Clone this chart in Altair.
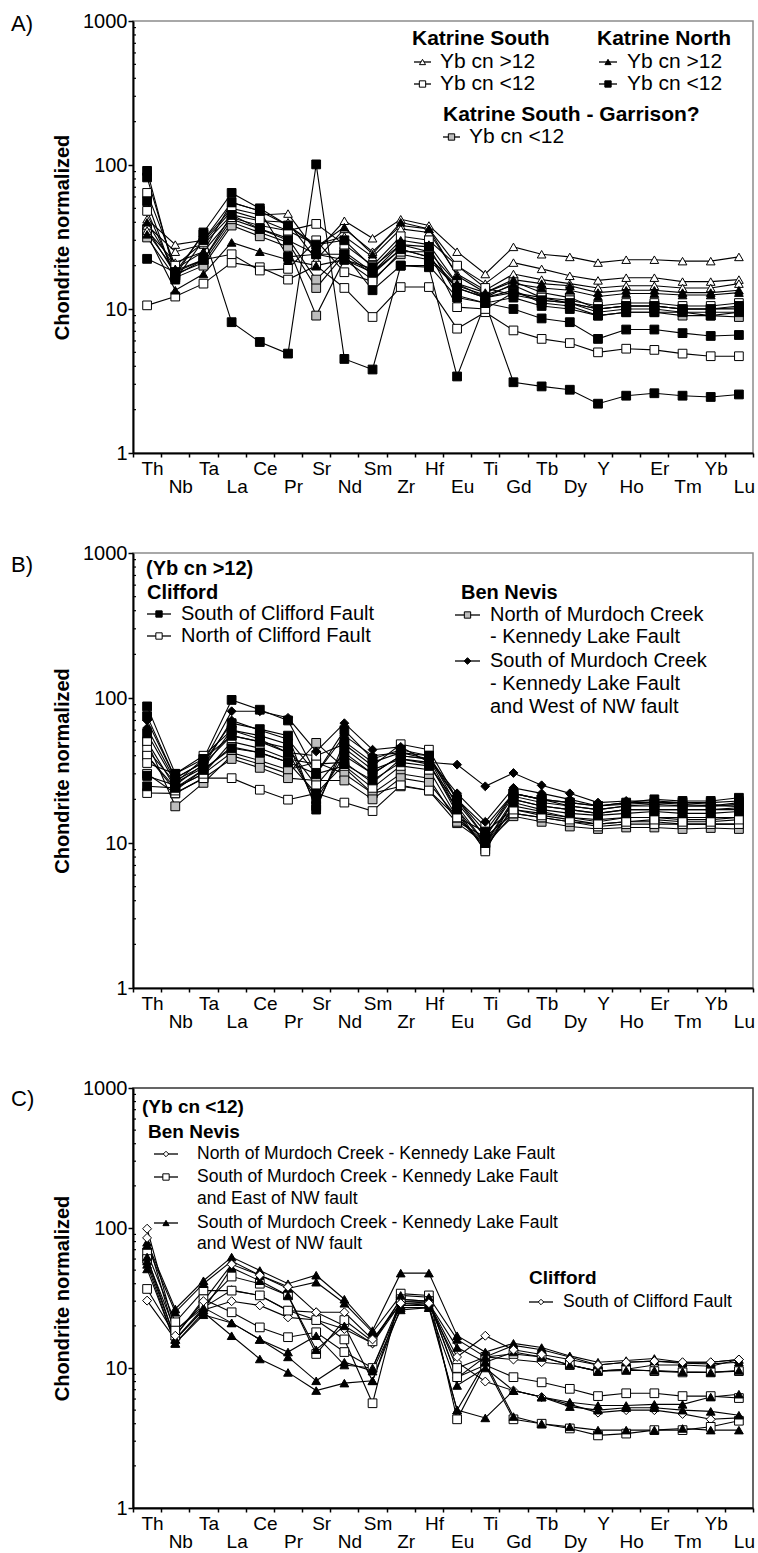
import json
import altair as alt
import pandas as pd

ELEMENTS = ["Th", "Nb", "Ta", "La", "Ce", "Pr", "Sr", "Nd", "Sm", "Zr", "Hf",
            "Eu", "Ti", "Gd", "Tb", "Dy", "Y", "Ho", "Er", "Tm", "Yb", "Lu"]
LOWER_ROW = ELEMENTS[1::2]
Y_MAJOR = [1, 10, 100, 1000]
Y_MINOR = [2, 3, 4, 5, 6, 7, 8, 9, 20, 30, 40, 50, 60, 70, 80, 90,
           200, 300, 400, 500, 600, 700, 800, 900]

# ---------------- Panel A ----------------
A_KS_GT12 = [
    [42, 28, 30, 50, 45, 46, 25, 41, 31, 42, 38, 25, 17.5, 27, 24, 23, 21, 22, 22, 21.5, 21.5, 23],
    [38, 25, 28, 45, 41, 40, 22, 36, 25, 38, 36, 20, 15, 21, 19, 17, 15.8, 16.5, 16.5, 15.5, 15.5, 16],
    [35, 21, 25, 43, 38, 35, 28, 32, 23, 36, 34, 17.5, 13.5, 17.5, 16, 15, 14, 14.5, 14.5, 14, 14, 15],
]
A_KN_GT12 = [
    [40, 19, 25, 55, 48, 38, 27, 37, 24, 40, 36, 17, 13, 16, 15, 14.5, 13, 13.5, 13.5, 13, 13, 13.5],
    [33, 13.5, 17.5, 29, 25, 22, 20, 22, 19, 30, 28, 15, 12, 15, 14, 13.5, 12.2, 12.8, 12.8, 12.5, 12.5, 13],
]
A_KS_LT12 = [
    [10.6, 12.2, 15, 21, 19.5, 16, 20, 14, 8.8, 14.2, 14.2, 7.3, 9.5, 7.1, 6.2, 5.8, 5.0, 5.3, 5.2, 4.9, 4.7, 4.7],
    [64, 20, 29, 48, 42, 35, 39, 28, 20, 32, 30, 20, 14, 12.5, 11.5, 11, 10, 10.5, 10.5, 10, 10, 10.2],
    [48, 17, 22, 24, 18.5, 19, 30, 18, 15.5, 25, 25, 10.3, 10, 13, 12, 11.5, 10.5, 11, 11, 10.5, 10.5, 11],
]
A_KN_LT12 = [
    [91, 17, 34, 64, 50, 38, 28, 30, 19.5, 28, 27, 12.4, 11, 10, 8.6, 8.1, 6.2, 7.2, 7.2, 6.8, 6.5, 6.6],
    [82, 18, 33, 8.1, 5.9, 4.9, 101, 4.5, 3.8, 20, 19.5, 3.4, 11, 3.1, 2.9, 2.75, 2.2, 2.5, 2.6, 2.5, 2.45, 2.55],
    [56, 16, 30, 55, 48, 23, 24, 24, 13.5, 20, 20, 12, 11, 12, 10.5, 10, 9, 9.5, 9.5, 9.5, 9, 9.5],
    [22.3, 18, 22, 45, 36, 30, 24, 22, 18, 26, 23, 14, 12, 13, 11.5, 11, 10, 10.5, 10.5, 10, 10, 10.5],
]
A_KSG_LT12 = [
    [36, 17.5, 21, 40, 34, 29, 14, 24, 17.5, 26, 23, 14.5, 12.5, 14.6, 12, 11, 9.5, 10, 10, 9.5, 9.5, 9.5],
    [31.4, 16.5, 20, 38, 32, 27, 9, 22, 16, 24, 22, 14, 12, 13.5, 11, 10.5, 9, 9.5, 9.5, 9, 9, 8.8],
    [34, 18.5, 22, 42, 36, 31, 16, 25, 18, 28, 25, 15, 13, 15.5, 13, 12, 10, 10.5, 10.5, 10, 10, 10],
]

# ---------------- Panel B ----------------
B_CLIFFORD_S = [
    [87.5, 30, 38, 97, 83, 70, 30, 60, 38, 44, 40, 20, 11, 22, 20, 18, 17, 18, 18.5, 18, 18, 19],
    [75, 28, 36, 67, 61, 55, 17, 50, 36, 42, 40, 18, 10, 20, 18, 17, 16, 17, 17, 17, 17, 17.5],
    [57, 26, 33, 60, 55, 48, 18, 45, 32, 38, 35, 17, 10, 19, 17, 16, 15.5, 16, 16.5, 16, 16, 16.5],
    [29, 25, 35, 55, 50, 42, 20, 40, 30, 40, 38, 20, 12, 22, 20, 19, 18, 19, 20, 19.5, 19.5, 20.5],
    [24.6, 24, 32, 45, 42, 36, 22, 35, 27, 36, 34, 19, 11, 21, 19, 18, 17, 18, 18, 18, 18, 18.5],
]
B_CLIFFORD_N = [
    [22.1, 22, 28, 28, 23.3, 19.9, 22, 19, 16.6, 25, 23, 15, 9.5, 16, 15, 14, 13, 13.5, 13.5, 13.5, 13.5, 13.5],
    [50, 24, 30, 50, 45, 38, 35, 36, 26, 38, 36, 16, 9, 18, 16.5, 15, 14, 15, 15, 14.5, 14.5, 15],
    [44, 26, 38, 55, 50, 45, 25, 42, 30, 40, 38, 17, 8.75, 20, 18, 17, 16, 17, 17, 17, 17, 17],
    [40, 23, 32, 46, 42, 36, 30, 34, 24, 34, 32, 15, 10, 17, 15.5, 14.5, 13.5, 14, 14.5, 14, 14, 14.5],
    [35.6, 30, 40, 60, 52, 42, 40, 48, 34, 48, 44, 20, 13, 22, 20, 19, 18, 18.5, 19, 19, 19, 19.5],
]
B_BENNEVIS_N = [
    [50, 17.9, 26, 40, 35, 30, 49, 33, 22, 24.6, 23, 13.7, 10, 15.3, 14, 13, 12.5, 12.8, 12.8, 12.5, 12.7, 12.5],
    [40, 24, 30, 42, 37, 32, 36, 30, 22, 30, 28, 14, 11, 16, 15, 14, 13.5, 14, 14, 13.5, 13.5, 13.5],
    [30, 22, 28, 38, 33, 28, 27, 27, 20, 28, 26, 15, 12, 17, 16, 15, 14.5, 15, 15, 15, 15, 15],
]
B_BENNEVIS_S = [
    [70, 28, 36, 81, 81, 73, 42.8, 67, 44, 46, 36, 34.7, 24.6, 30.4, 25, 22, 19, 19.5, 19.5, 19, 18.5, 17.8],
    [62, 27, 34, 70, 60, 52, 30, 55, 40, 42, 38, 22, 14, 24, 22, 20, 18, 19, 19, 18.5, 18, 18],
]

# ---------------- Panel C ----------------
C_BENNEVIS_N = [
    [98.8, 18.5, 27, 36, 33, 25.7, 25, 20, 15, 29, 28, 11, 8, 6.9, 6.2, 5.5, 4.8, 5.0, 5.0, 4.7, 4.3, 4.4],
    [30.3, 16, 26, 30, 28, 23, 22, 19, 15, 31, 30, 8.5, 12, 11.5, 11, 10.5, 9.5, 9.8, 10.5, 10.5, 10.3, 11.5],
]
C_BENNEVIS_SE = [
    [67, 21.2, 35.7, 35.7, 33, 25.7, 22, 16, 5.6, 34, 33, 4.3, 10.5, 4.3, 4.0, 3.7, 3.3, 3.4, 3.6, 3.6, 3.8, 4.2],
    [36.7, 17, 31, 25, 19.5, 16.6, 18, 13, 10, 30, 30, 8.6, 10.5, 8.6, 7.9, 7.1, 6.3, 6.6, 6.6, 6.3, 6.3, 6.1],
    [60, 18.5, 28, 45, 40, 33, 12.6, 22, 15.5, 31, 30, 10, 12, 12.6, 12, 10.5, 9.5, 9.8, 9.5, 9.3, 9.3, 9.5],
]
C_BENNEVIS_SW = [
    [79, 26.4, 42, 62, 49.7, 40, 46, 31, 18.5, 47.6, 47.6, 17, 13, 15, 14, 12.2, 11, 11.3, 11.7, 11, 11, 11.5],
    [75, 25, 40, 58, 46, 37, 41, 29, 18, 33, 32, 16, 12, 14.5, 13.5, 12, 10.5, 11, 11.2, 10.8, 10.7, 11],
    [58, 16, 26, 52, 42, 33, 13.5, 20, 8.1, 30, 29, 14, 11, 13, 12, 10.5, 9.5, 9.6, 9.6, 9.4, 9.3, 9.6],
    [51, 15, 24, 21, 16, 13, 17, 10.5, 10, 28, 28, 5, 4.4, 6.9, 6.2, 5.7, 5.4, 5.4, 5.5, 5.5, 6.2, 6.5],
    [55, 15, 25, 17, 11.6, 9.3, 6.9, 7.8, 8.1, 27, 27, 5, 11, 4.5, 4.0, 3.8, 3.6, 3.6, 3.6, 3.7, 3.6, 3.6],
    [62, 16, 27, 21, 16, 12, 8.1, 11, 9.5, 26, 27, 7.5, 10, 6.9, 6.2, 5.3, 5.0, 5.2, 5.2, 5.0, 4.9, 4.6],
]
C_CLIFFORD_S = [
    [85, 17, 30, 55, 46, 38, 25, 25, 16, 29, 29, 12, 17, 13.5, 12.5, 11.5, 10.5, 11, 11.2, 11, 11, 11.5],
]

# ---------------- styles ----------------
KINDS = ["open_tri", "open_sq", "fill_tri", "fill_sq", "gray_sq", "fill_dia", "open_dia", "small_dia"]
SHAPES = ["triangle-up", "square", "triangle-up", "square", "square", "diamond", "diamond", "diamond"]
FILLS = ["white", "white", "black", "black", "#bdbdbd", "black", "white", "white"]
SIZES = [75, 80, 75, 80, 120, 95, 70, 50]
STYLE = {k: (s, f, z) for k, s, f, z in zip(KINDS, SHAPES, FILLS, SIZES)}

FONT = "Liberation Sans, Arial, sans-serif"
W = 620
HA, HB, HC = 432, 435, 420
ONE = alt.Data(values=[{"a": 1}])


def frame(groups):
    rows = []
    n = 0
    for kind, series in groups:
        for vals in series:
            n += 1
            for i, v in enumerate(vals):
                rows.append({"el": ELEMENTS[i], "ord": i, "v": v, "sid": f"s{n}", "kind": kind})
    return pd.DataFrame(rows)


def ltext(txt, x, y, size=20, bold=False):
    return alt.Chart(ONE).mark_text(
        text=txt, align="left", baseline="middle", fontSize=size,
        fontWeight="bold" if bold else "normal", font=FONT, color="black"
    ).encode(x=alt.value(x), y=alt.value(y))


def lsym(x0, x1, y, kind, size=None):
    shape, fill, sz = STYLE[kind]
    line = alt.Chart(ONE).mark_rule(color="black", strokeWidth=1.3).encode(
        x=alt.value(x0), x2=alt.value(x1), y=alt.value(y))
    pt = alt.Chart(ONE).mark_point(
        shape=shape, filled=True, fill=fill, stroke="black", strokeWidth=1,
        size=size if size else sz * 0.5, opacity=1
    ).encode(x=alt.value((x0 + x1) / 2), y=alt.value(y))
    return [line, pt]


YSCALE = alt.Scale(type="log", domain=[1, 1000], nice=False)


def panel(df, height, letter, letter_dy, legend_layers, frame_color):
    lower = json.dumps(LOWER_ROW)
    x = alt.X(
        "el:N", sort=ELEMENTS, bandPosition=0.5,
        scale=alt.Scale(type="band", domain=ELEMENTS, paddingInner=0, paddingOuter=0),
        axis=alt.Axis(
            title=None, labelAngle=0, tickBand="extent", tickSize=4, tickColor="black",
            tickWidth=1.5,
            labelExpr=f"indexof({lower}, datum.value) >= 0 ? ['', datum.label] : datum.label",
            labelFontSize=19, labelLineHeight=18.5, labelBaseline="top", labelPadding=2,
            labelOffset=5,
            labelFont=FONT, labelColor="black", labelOverlap=False,
            domainColor="black", domainWidth=2,
        ),
    )
    y = alt.Y(
        "v:Q",
        scale=YSCALE,
        axis=alt.Axis(
            values=Y_MAJOR, format="d", tickSize=5, tickWidth=1.5,
            tickColor="black", domainColor="black", domainWidth=2,
            labelFontSize=20, labelFont=FONT, labelColor="black", labelPadding=1,
            labelOverlap=False, labelFlush=False, grid=False,
            title="Chondrite normalized", titleFontSize=20, titleFontWeight="bold",
            titleFont=FONT, titleColor="black", titleX=-71, titleY=height / 2,
            titleAngle=270, titleAlign="center", titleBaseline="middle",
        ),
    )
    base = alt.Chart(df)
    lines = base.mark_line(color="black", strokeWidth=1.1).encode(
        x=x, y=y, detail="sid:N", order=alt.Order("ord:Q"))
    pts = base.mark_point(filled=True, stroke="black", strokeWidth=1, opacity=1).encode(
        x=x, y=y,
        shape=alt.Shape("kind:N", scale=alt.Scale(domain=KINDS, range=SHAPES), legend=None),
        fill=alt.Fill("kind:N", scale=alt.Scale(domain=KINDS, range=FILLS), legend=None),
        size=alt.Size("kind:O", scale=alt.Scale(domain=KINDS, range=SIZES), legend=None),
    )
    minor = alt.Chart(pd.DataFrame({"v": Y_MINOR})).mark_rule(
        color="black", strokeWidth=1.2
    ).encode(y=y, x=alt.value(0), x2=alt.value(3))
    lab = ltext(letter, -122, letter_dy, size=22)
    return alt.layer(lines, pts, minor, lab, *legend_layers).properties(
        width=W, height=height,
        view=alt.ViewBackground(stroke=frame_color, strokeWidth=1.5),
    )


# ---------------- legends ----------------
legA = [
    ltext("Katrine South", 279, 18, size=21, bold=True),
    ltext("Katrine North", 464, 18, size=21, bold=True),
    *lsym(281, 298, 41, "open_tri"), ltext("Yb cn >12", 307, 41, size=21),
    *lsym(281, 298, 63, "open_sq"), ltext("Yb cn <12", 307, 63, size=21),
    *lsym(466, 484, 41, "fill_tri"), ltext("Yb cn >12", 494, 41, size=21),
    *lsym(466, 484, 63, "fill_sq"), ltext("Yb cn <12", 494, 63, size=21),
    ltext("Katrine South - Garrison?", 310, 94, size=21, bold=True),
    *lsym(310, 327, 116, "gray_sq", size=40), ltext("Yb cn <12", 336, 116, size=21),
]
legB = [
    ltext("(Yb cn >12)", 13, 16, bold=True),
    ltext("Clifford", 14, 40, bold=True),
    *lsym(14, 38, 61, "fill_sq"), ltext("South of Clifford Fault", 48, 61),
    *lsym(14, 38, 83, "open_sq"), ltext("North of Clifford Fault", 48, 83),
    ltext("Ben Nevis", 328, 40, bold=True),
    *lsym(322, 347, 62, "gray_sq", size=40), ltext("North of Murdoch Creek", 357, 62),
    ltext("- Kennedy Lake Fault", 357, 84),
    *lsym(322, 347, 108, "fill_dia", size=45), ltext("South of Murdoch Creek", 357, 108),
    ltext("- Kennedy Lake Fault", 357, 131),
    ltext("and West of NW fault", 357, 154),
]
CS = 17.5
legC = [
    ltext("(Yb cn <12)", 9, 19, size=19, bold=True),
    ltext("Ben Nevis", 15, 44, size=19, bold=True),
    *lsym(21, 45, 66, "small_dia", size=30),
    ltext("North of Murdoch Creek - Kennedy Lake Fault", 64, 66, size=CS),
    *lsym(21, 45, 89, "open_sq"),
    ltext("South of Murdoch Creek - Kennedy Lake Fault", 64, 89, size=CS),
    ltext("and East of NW fault", 64, 111, size=CS),
    *lsym(21, 45, 135, "fill_tri"),
    ltext("South of Murdoch Creek - Kennedy Lake Fault", 64, 135, size=CS),
    ltext("and West of NW fault", 64, 156, size=CS),
    ltext("Clifford", 396, 190, size=19, bold=True),
    *lsym(396, 420, 214, "small_dia", size=30),
    ltext("South of Clifford Fault", 430, 214, size=CS),
]

dfA = frame([("gray_sq", A_KSG_LT12), ("open_tri", A_KS_GT12), ("open_sq", A_KS_LT12),
             ("fill_tri", A_KN_GT12), ("fill_sq", A_KN_LT12)])
dfB = frame([("gray_sq", B_BENNEVIS_N), ("open_sq", B_CLIFFORD_N),
             ("fill_sq", B_CLIFFORD_S), ("fill_dia", B_BENNEVIS_S)])
dfC = frame([("small_dia", C_BENNEVIS_N), ("open_sq", C_BENNEVIS_SE),
             ("fill_tri", C_BENNEVIS_SW), ("small_dia", C_CLIFFORD_S)])

pA = panel(dfA, HA, "A)", 3, legA, "#8c8c8c")
pB = panel(dfB, HB, "B)", 12, legB, "#8c8c8c")
pC = panel(dfC, HC, "C)", 11, legC, "#333333")

chart = alt.vconcat(pA, pB, pC, spacing=44).properties(
    padding={"left": 10, "top": 10, "right": 2, "bottom": 0},
    background="white",
).configure_view(strokeWidth=1.5)

chart.save("out.html", embed_options={"renderer": "svg", "actions": False})
